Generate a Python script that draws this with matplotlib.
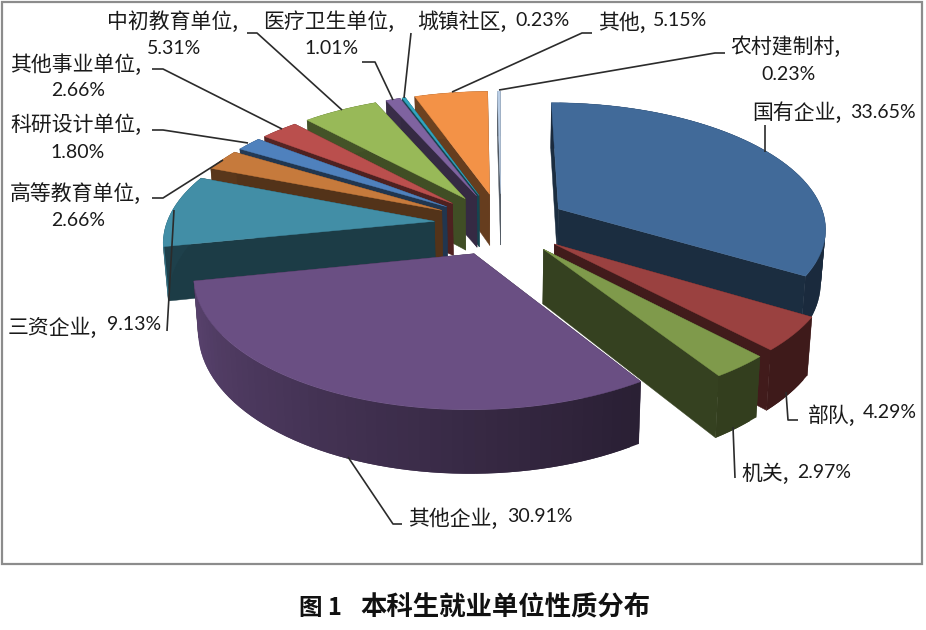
import numpy as np
import matplotlib
matplotlib.use('Agg')
import matplotlib.pyplot as plt
import matplotlib.patches as patches

categories = ['国有企业', '部队', '机关', '其他企业', '三资企业', '高等教育单位', '科研设计单位',
	'其他事业单位', '中初教育单位', '医疗卫生单位', '城镇社区', '其他', '农村建制村']
shares = [33.65, 4.29, 2.97, 30.91, 9.13, 2.66, 1.80, 2.66, 5.31, 1.01, 0.23, 5.15, 0.23]
topColors = ['#416A99', '#9A4140', '#7F9A4B', '#6A4F83', '#428EA6', '#C67A3C', '#4F81BD',
	'#BA4F4D', '#98B958', '#7F63A0', '#31A5BE', '#F39247', '#B9CDE5']
caption = '本科生就业单位性质分布'

# painter's order, far slices first
drawOrder = [11, 12, 10, 9, 8, 7, 6, 5, 4, 0, 3, 1, 2]

centerX, centerY = 501, 224
radiusX, radiusY = 268, 125
explode = 0.25
perspective = 0.14
depth = 53
narrowing = 0.985
zhFont = ['Noto Sans CJK SC', 'DejaVu Sans']
numFont = ['Lato', 'DejaVu Sans']
zhSize, numSize = 15, 14

# category x, y, percent x, y, percent alignment
labelSpots = [
	(752, 113, 850, 112, 'left'),
	(808, 416, 863, 413, 'left'),
	(741, 474, 797, 472, 'left'),
	(408, 519, 507, 516, 'left'),
	(8, 328, 107, 325, 'left'),
	(10, 194, 78, 220, 'center'),
	(10, 125, 78, 152, 'center'),
	(10, 65, 78, 90, 'center'),
	(107, 22, 174, 48, 'center'),
	(263, 22, 332, 48, 'center'),
	(417, 22, 515, 20, 'left'),
	(598, 23, 653, 21, 'left'),
	(730, 47, 789, 74, 'center'),
]
leaders = [
	[(765, 125), (765, 152)],
	[(798, 420), (788, 420), (786, 392)],
	[(735, 478), (733, 427)],
	[(402, 524), (393, 524), (348, 457)],
	[(167, 331), (174, 210)],
	[(152, 198), (163, 198), (223, 160)],
	[(152, 130), (163, 130), (248, 143)],
	[(152, 69), (163, 69), (282, 129)],
	[(247, 33), (257, 33), (342, 110)],
	[(362, 62), (375, 62), (393, 100)],
	[(411, 33), (404, 98)],
	[(592, 33), (582, 33), (452, 92)],
	[(725, 53), (715, 53), (505, 89), (499, 90)],
]

def shade(color, factor):
	return tuple(c * factor for c in matplotlib.colors.to_rgb(color))

def project(midAngle, angle, radius):
	x = explode * np.sin(midAngle) + radius * np.sin(angle)
	y = explode * np.cos(midAngle) + radius * np.cos(angle)
	s = 1 / (1 + perspective * y)
	return centerX + radiusX * x * s, centerY - radiusY * y * s, s

def lowered(point):
	return centerX + (point[0] - centerX) * narrowing, point[1] + depth * point[2]

def wallFactor(angle):
	degrees = np.degrees(angle)
	if degrees > 262:
		return 0.45
	return 0.40 + 0.45 * np.clip((degrees - 150) / 110, 0, 1)

def drawSlice(axes, start, end, color):
	mid = (start + end) / 2
	apex = project(mid, mid, 0)
	angles = np.linspace(start, end, max(3, int(np.degrees(end - start) / 2) + 2))
	rim = [project(mid, a, 1) for a in angles]
	dark = shade(color, 0.42)

	for edge in (rim[0], rim[-1]):
		wall = [apex[:2], edge[:2], lowered(edge), lowered(apex)]
		axes.add_patch(patches.Polygon(wall, facecolor = dark, edgecolor = dark, linewidth = 0.3))

	# each facet runs on over the next one so no seam shows between them
	for i in range(len(rim) - 1):
		c = shade(color, wallFactor((angles[i] + angles[i + 1]) / 2))
		far = rim[min(i + 2, len(rim) - 1)]
		quad = [rim[i][:2], far[:2], lowered(far), lowered(rim[i])]
		axes.add_patch(patches.Polygon(quad, facecolor = c, edgecolor = 'none', linewidth = 0))

	top = [apex[:2]] + [p[:2] for p in rim]
	axes.add_patch(patches.Polygon(top, facecolor = color, edgecolor = color, linewidth = 0.3))

def main():
	fig = plt.figure(figsize = (9.26, 6.30), dpi = 100)
	axes = fig.add_axes([0, 0, 1, 1])
	axes.set_xlim(0, 926)
	axes.set_ylim(630, 0)
	axes.axis('off')

	axes.add_patch(patches.Rectangle((2, 2), 920, 562, facecolor = 'white', edgecolor = '#8C8C8C', linewidth = 1.6))

	edges = np.radians(np.cumsum([0] + shares) * 360 / sum(shares))
	for i in drawOrder:
		drawSlice(axes, edges[i], edges[i + 1], topColors[i])

	for line in leaders:
		xs, ys = zip(*line)
		axes.plot(xs, ys, color = '#2B2B2B', linewidth = 1.2, solid_capstyle = 'butt', zorder = 5)

	for name, value, spot in zip(categories, shares, labelSpots):
		axes.text(spot[0], spot[1], name + ',', family = zhFont, fontsize = zhSize, color = '#1A1A1A', va = 'center', ha = 'left', zorder = 6)
		axes.text(spot[2], spot[3], '%.2f%%' % value, family = numFont, fontsize = numSize, color = '#1A1A1A', va = 'center', ha = spot[4], zorder = 6)

	axes.text(299, 608, '图 1', family = zhFont, fontsize = 17, fontweight = 'bold', color = '#111111', va = 'center', ha = 'left')
	axes.text(360, 608, caption, family = zhFont, fontsize = 19, fontweight = 'bold', color = '#111111', va = 'center', ha = 'left')

	fig.savefig('out.png', dpi = 100)

if __name__ == '__main__':
	main()
